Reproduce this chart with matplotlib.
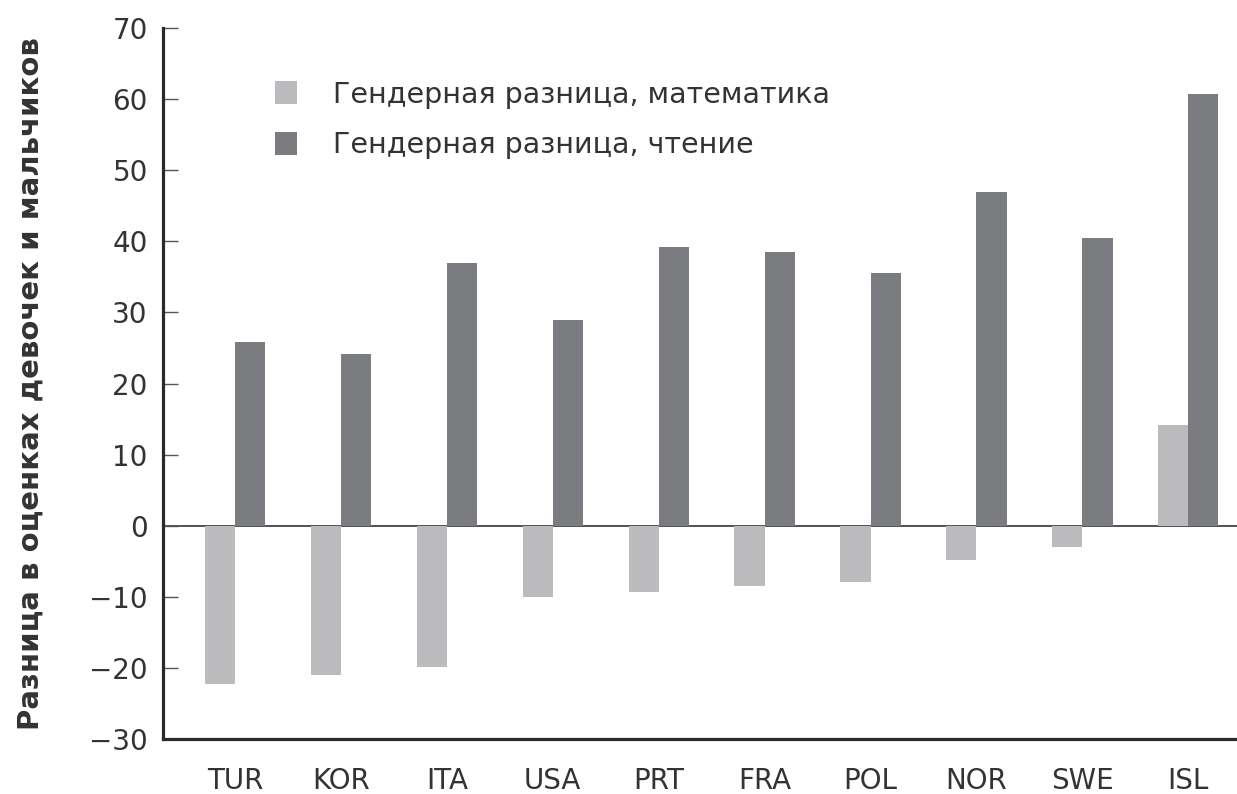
import matplotlib.pyplot as plt
import numpy as np

countries = ['TUR', 'KOR', 'ITA', 'USA', 'PRT', 'FRA', 'POL', 'NOR', 'SWE', 'ISL']
math_gap = [-22.3, -21.0, -19.9, -10.0, -9.3, -8.5, -7.9, -4.8, -3.0, 14.1]
reading_gap = [25.8, 24.1, 36.9, 29.0, 39.2, 38.5, 35.5, 47.0, 40.4, 60.7]
yticks = [-30, -20, -10, 0, 10, 20, 30, 40, 50, 60, 70]

plt.rcParams['font.family'] = ['DejaVu Sans']
text_col = '#333333'

fig = plt.figure(figsize=(12.37, 7.94), dpi=100)
ax = fig.add_axes([0.1318, 0.0693, 0.8682, 0.8954])

x = np.arange(len(countries))
w = 0.285
ax.bar(x - w / 2, math_gap, w, color='#bbbbbd', label='Гендерная разница, математика')
ax.bar(x + w / 2, reading_gap, w, color='#7b7c80', label='Гендерная разница, чтение')
ax.axhline(0, color='#444444', lw=1.3, zorder=0.5)

ax.set_xlim(-0.68, 9.46)
ax.set_ylim(-30, 70)
ax.set_yticks(yticks)
ax.set_yticklabels([str(t).replace('-', '\u2212') for t in yticks])
ax.set_xticks(x)
ax.set_xticklabels(countries)

for s in ['top', 'right']:
    ax.spines[s].set_visible(False)
for s in ['left', 'bottom']:
    ax.spines[s].set_linewidth(2.3)
    ax.spines[s].set_color('#2a2a2a')

ax.tick_params(axis='y', direction='in', length=11, width=1, color='#555555',
               pad=11, labelsize=20, labelcolor=text_col)
ax.tick_params(axis='x', length=0, pad=20, labelsize=20, labelcolor=text_col)

ax.set_ylabel('Разница в оценках девочек и мальчиков', fontsize=21,
              fontweight='bold', color=text_col)
ax.yaxis.set_label_coords(-0.11, 0.5)

ax.legend(loc='upper left', bbox_to_anchor=(0.08, 0.962), frameon=False,
          fontsize=20.5, handlelength=0.8, handleheight=0.85,
          handletextpad=1.25, labelspacing=0.8, labelcolor=text_col)

plt.savefig('out.png', dpi=100)
